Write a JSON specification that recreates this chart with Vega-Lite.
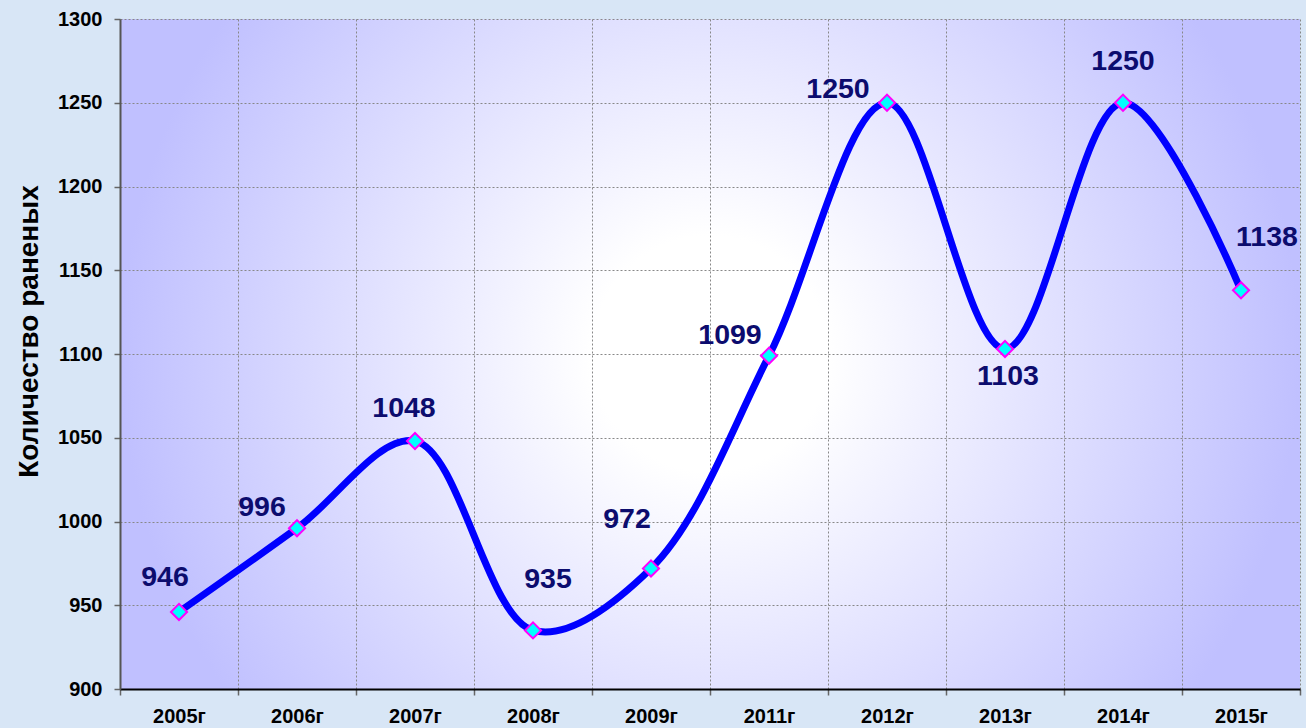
{
  "$schema": "https://vega.github.io/schema/vega-lite/v6.json",
  "width": 1180,
  "height": 670,
  "autosize": {"type": "none"},
  "padding": {"left": 120, "top": 19, "right": 6, "bottom": 39},
  "background": "#D8E6F6",
  "config": {
    "view": {
      "stroke": null,
      "fill": {
        "gradient": "radial",
        "x1": 0.5, "y1": 0.5, "r1": 0,
        "x2": 0.5, "y2": 0.5, "r2": 0.5,
        "stops": [
          {"offset": 0, "color": "#FFFFFF"},
          {"offset": 0.2, "color": "#FFFFFF"},
          {"offset": 1, "color": "#C0C0FF"}
        ]
      }
    },
    "font": "Liberation Sans",
    "axis": {
      "labelFont": "Liberation Sans",
      "labelFontWeight": "bold",
      "labelFontSize": 20,
      "labelColor": "#000000",
      "titleFont": "Liberation Sans",
      "titleFontWeight": "bold",
      "titleColor": "#000000",
      "gridColor": "#888888",
      "gridDash": [2, 2],
      "gridWidth": 1,
      "gridOpacity": 1,
      "tickColor": "#666666",
      "tickSize": 6,
      "tickWidth": 1.5
    }
  },
  "data": {
    "values": [
      {"year": "2005г", "value": 946},
      {"year": "2006г", "value": 996},
      {"year": "2007г", "value": 1048},
      {"year": "2008г", "value": 935},
      {"year": "2009г", "value": 972},
      {"year": "2011г", "value": 1099},
      {"year": "2012г", "value": 1250},
      {"year": "2013г", "value": 1103},
      {"year": "2014г", "value": 1250},
      {"year": "2015г", "value": 1138}
    ]
  },
  "encoding": {
    "x": {
      "field": "year",
      "type": "nominal",
      "sort": null,
      "bandPosition": 0.5,
      "scale": {"type": "band", "paddingInner": 0, "paddingOuter": 0},
      "axis": {
        "title": null,
        "labelAngle": 0,
        "grid": true,
        "tickBand": "extent",
        "labelPadding": 11,
        "domainColor": "#000000",
        "domainWidth": 2
      }
    },
    "y": {
      "field": "value",
      "type": "quantitative",
      "scale": {"domain": [900, 1300], "nice": false, "zero": false},
      "axis": {
        "title": "Количество раненых",
        "titleFontSize": 28,
        "titlePadding": 14,
        "titleY": 312,
        "format": "d",
        "values": [900, 950, 1000, 1050, 1100, 1150, 1200, 1250, 1300],
        "grid": true,
        "labelPadding": 12,
        "domainColor": "#555555",
        "domainWidth": 2
      }
    }
  },
  "layer": [
    {
      "mark": {"type": "line", "interpolate": "catmull-rom", "color": "#0000FF", "strokeWidth": 7, "strokeCap": "round"}
    },
    {
      "mark": {"type": "point", "shape": "square", "angle": 45, "size": 130, "filled": true, "fill": "#00FFFF", "stroke": "#FF00FF", "strokeWidth": 2, "opacity": 1}
    },
    {
      "transform": [{"filter": "datum.year == '2005г'"}],
      "mark": {"type": "text", "dx": -14, "dy": -35, "fontSize": 28.5, "fontWeight": "bold", "color": "#0C0C6E", "font": "Liberation Sans"},
      "encoding": {"text": {"field": "value"}}
    },
    {
      "transform": [{"filter": "datum.year == '2006г'"}],
      "mark": {"type": "text", "dx": -35, "dy": -21, "fontSize": 28.5, "fontWeight": "bold", "color": "#0C0C6E", "font": "Liberation Sans"},
      "encoding": {"text": {"field": "value"}}
    },
    {
      "transform": [{"filter": "datum.year == '2007г'"}],
      "mark": {"type": "text", "dx": -11, "dy": -33, "fontSize": 28.5, "fontWeight": "bold", "color": "#0C0C6E", "font": "Liberation Sans"},
      "encoding": {"text": {"field": "value"}}
    },
    {
      "transform": [{"filter": "datum.year == '2008г'"}],
      "mark": {"type": "text", "dx": 15, "dy": -51, "fontSize": 28.5, "fontWeight": "bold", "color": "#0C0C6E", "font": "Liberation Sans"},
      "encoding": {"text": {"field": "value"}}
    },
    {
      "transform": [{"filter": "datum.year == '2009г'"}],
      "mark": {"type": "text", "dx": -24, "dy": -49, "fontSize": 28.5, "fontWeight": "bold", "color": "#0C0C6E", "font": "Liberation Sans"},
      "encoding": {"text": {"field": "value"}}
    },
    {
      "transform": [{"filter": "datum.year == '2011г'"}],
      "mark": {"type": "text", "dx": -39, "dy": -21, "fontSize": 28.5, "fontWeight": "bold", "color": "#0C0C6E", "font": "Liberation Sans"},
      "encoding": {"text": {"field": "value"}}
    },
    {
      "transform": [{"filter": "datum.year == '2012г'"}],
      "mark": {"type": "text", "dx": -49, "dy": -14, "fontSize": 28.5, "fontWeight": "bold", "color": "#0C0C6E", "font": "Liberation Sans"},
      "encoding": {"text": {"field": "value"}}
    },
    {
      "transform": [{"filter": "datum.year == '2013г'"}],
      "mark": {"type": "text", "dx": 3, "dy": 27, "fontSize": 28.5, "fontWeight": "bold", "color": "#0C0C6E", "font": "Liberation Sans"},
      "encoding": {"text": {"field": "value"}}
    },
    {
      "transform": [{"filter": "datum.year == '2014г'"}],
      "mark": {"type": "text", "dx": 0, "dy": -42, "fontSize": 28.5, "fontWeight": "bold", "color": "#0C0C6E", "font": "Liberation Sans"},
      "encoding": {"text": {"field": "value"}}
    },
    {
      "transform": [{"filter": "datum.year == '2015г'"}],
      "mark": {"type": "text", "dx": 26, "dy": -53, "fontSize": 28.5, "fontWeight": "bold", "color": "#0C0C6E", "font": "Liberation Sans"},
      "encoding": {"text": {"field": "value"}}
    }
  ]
}
